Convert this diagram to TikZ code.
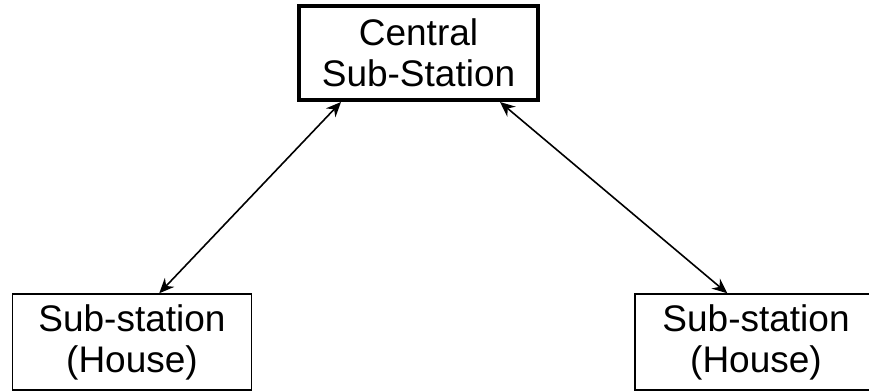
\documentclass[tikz,border=0pt]{standalone}
\usepackage{fontspec}
\setmainfont{Liberation Sans}
\usepackage{tikz}
\usetikzlibrary{arrows.meta}

\tikzset{
  station/.style={draw, line width=1.5pt, align=center, inner sep=0pt,
    font=\fontsize{37}{41}\selectfont},
  link/.style={line width=1.6pt, >={Stealth[length=15pt,width=13pt,inset=5pt]}, <->}
}

\begin{document}
\begin{tikzpicture}[x=1pt,y=1pt]
\useasboundingbox (0,0) rectangle (869,391);
\clip (0,0) rectangle (869,391);
%\draw[help lines,step=50] (0,0) grid (869,391);
\node [station, line width=4pt, minimum width=239pt, minimum height=94pt] (central) at (418.5,338) {Central\\Sub-Station};
\node [station, minimum width=239pt, minimum height=96pt] (houseL) at (132,49) {Sub-station\\(House)};
\node [station, minimum width=242pt, minimum height=96pt] (houseR) at (756,49) {Sub-station\\(House)};
\draw [link] ([xshift=44pt]central.south west) -- ([xshift=-93pt]houseL.north east);
\draw [link] ([xshift=-40pt]central.south east) -- ([xshift=93pt]houseR.north west);
\end{tikzpicture}
\end{document}
